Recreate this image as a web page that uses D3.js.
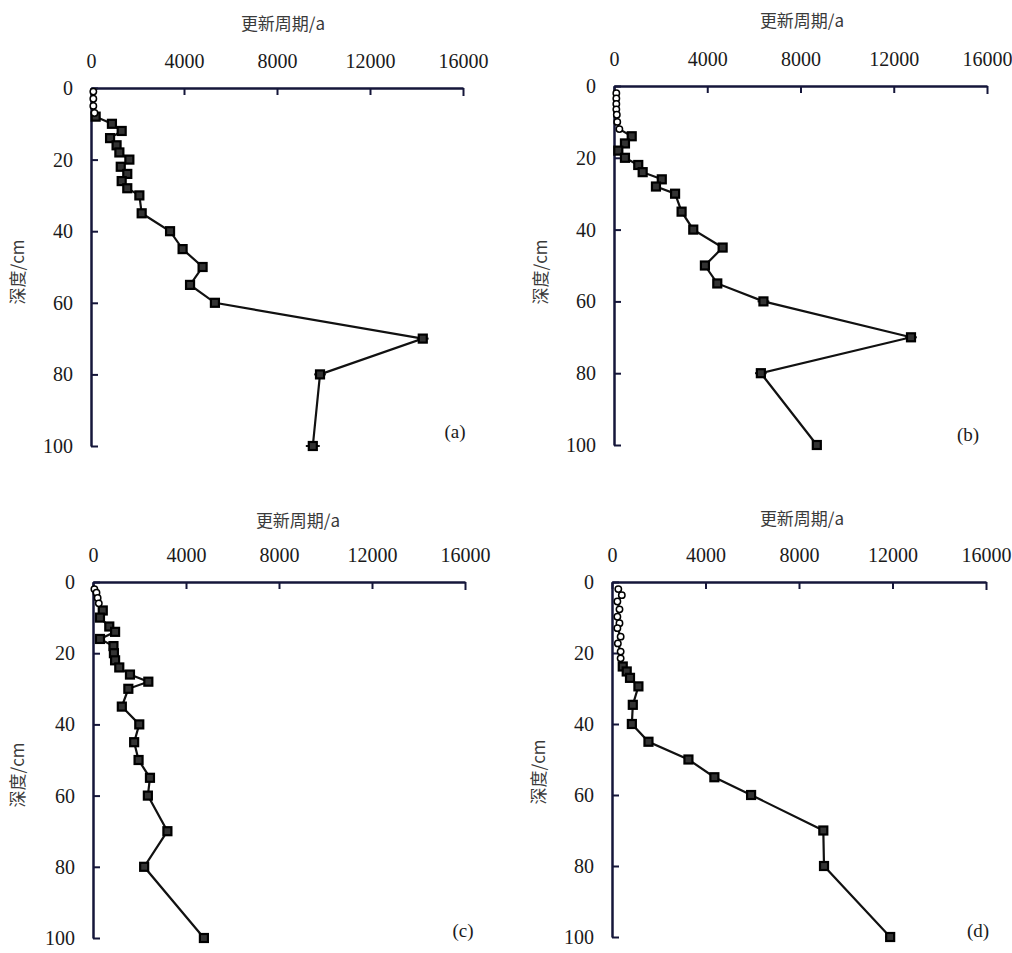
<!DOCTYPE html>
<html>
<head>
<meta charset="utf-8">
<script src="https://cdn.jsdelivr.net/npm/d3@7"></script>
<style>
  body { margin: 0; background: #fff; }
  svg { display: block; }
</style>
</head>
<body>
<script>
// Depth (cm) vs renewal period (a), four profiles
const xTicks = [0, 4000, 8000, 12000, 16000];
const yTicks = [0, 20, 40, 60, 80, 100];

const depthA = [1, 3, 5, 7, 8, 10, 12, 14, 16, 18, 20, 22, 24, 26, 28, 30, 35, 40, 45, 50, 55, 60, 70, 80, 100];
const periodA = [100, 100, 100, 150, 200, 900, 1320, 820, 1100, 1220, 1650, 1280, 1560, 1320, 1560, 2080, 2180, 3400, 3940, 4800, 4260, 5330, 14270, 9850, 9540];
const errA = [0, 0, 0, 0, 0, 0, 150, 0, 0, 0, 0, 0, 0, 0, 0, 0, 0, 0, 0, 150, 0, 200, 250, 250, 300];
const openA = 4;

const depthB = [2, 3.5, 5, 6.5, 8, 10, 12, 14, 16, 18, 20, 22, 24, 26, 28, 30, 35, 40, 45, 50, 55, 60, 70, 80, 100];
const periodB = [100, 100, 100, 100, 120, 140, 230, 760, 470, 185, 470, 1040, 1230, 2050, 1800, 2620, 2900, 3400, 4660, 3900, 4430, 6410, 12740, 6300, 8700];
const errB = [0, 0, 0, 0, 0, 0, 0, 0, 0, 0, 0, 0, 0, 0, 0, 0, 0, 0, 0, 0, 0, 250, 250, 250, 150];
const openB = 7;

const depthC = [2, 3, 4.5, 6, 8, 10, 12.5, 14, 16, 18, 20, 22, 24, 26, 28, 30, 35, 40, 45, 50, 55, 60, 70, 80, 100];
const periodC = [60, 150, 200, 250, 420, 300, 700, 950, 300, 880, 900, 950, 1130, 1590, 2380, 1520, 1240, 1990, 1770, 1960, 2450, 2360, 3200, 2200, 4770];
const errC = [0, 0, 0, 0, 0, 0, 0, 0, 0, 0, 0, 0, 0, 0, 0, 0, 0, 0, 0, 0, 0, 0, 0, 0, 0];
const openC = 4;

const depthD = [2, 3.7, 5.5, 7.7, 9.8, 11.6, 13, 15.4, 17.3, 19.6, 21.5, 23.8, 25.2, 27, 29.4, 34.6, 40, 45, 50, 55, 60, 70, 80, 100];
const periodD = [270, 420, 230, 320, 230, 320, 230, 370, 250, 370, 370, 460, 630, 770, 1130, 890, 850, 1560, 3270, 4380, 5950, 9040, 9070, 11900];
const errD = [0, 0, 0, 0, 0, 0, 0, 0, 0, 0, 0, 0, 0, 0, 0, 0, 0, 0, 0, 0, 0, 0, 200, 200];
const openD = 11;

const panels = [
  { id: "(a)", depth: depthA, period: periodA, err: errA, open: openA,
    x0: 91, x1: 463, y0: 88, y1: 446, titleX: 283, titleY: 30, yTitleX: 24, yTitleY: 272, labX: 455, labY: 438 },
  { id: "(b)", depth: depthB, period: periodB, err: errB, open: openB,
    x0: 614, x1: 987, y0: 86, y1: 445, titleX: 802, titleY: 27, yTitleX: 547, yTitleY: 272, labX: 968, labY: 441 },
  { id: "(c)", depth: depthC, period: periodC, err: errC, open: openC,
    x0: 93, x1: 465, y0: 582, y1: 938, titleX: 298, titleY: 527, yTitleX: 24, yTitleY: 775, labX: 463, labY: 937 },
  { id: "(d)", depth: depthD, period: periodD, err: errD, open: openD,
    x0: 612, x1: 986, y0: 582, y1: 937, titleX: 802, titleY: 525, yTitleX: 545, yTitleY: 772, labX: 978, labY: 937 }
];

const axisColor = "#15163a";
const inkColor = "#111";
const serif = "'Liberation Serif', 'Times New Roman', serif";

const svg = d3.select("body").append("svg")
  .attr("width", 1012)
  .attr("height", 953);

panels.forEach(p => {
  const x = d3.scaleLinear().domain([0, 16000]).range([p.x0, p.x1]);
  const y = d3.scaleLinear().domain([0, 100]).range([p.y0, p.y1]);
  const g = svg.append("g");

  // axes
  const xAxis = g.append("g")
    .attr("transform", `translate(0,${p.y0})`)
    .call(d3.axisTop(x).tickValues(xTicks).tickFormat(d3.format("d"))
      .tickSizeInner(-7).tickSizeOuter(0).tickPadding(20));
  const yAxis = g.append("g")
    .attr("transform", `translate(${p.x0},0)`)
    .call(d3.axisLeft(y).tickValues(yTicks)
      .tickSizeInner(-7).tickSizeOuter(0).tickPadding(18));

  [xAxis, yAxis].forEach(a => {
    a.select(".domain").attr("stroke", axisColor).attr("stroke-width", 2.5);
    a.selectAll(".tick line").attr("stroke", axisColor).attr("stroke-width", 2);
    a.selectAll(".tick text")
      .attr("fill", "#1a1a1a")
      .style("font-family", serif)
      .style("font-size", "20px");
  });
  xAxis.selectAll(".tick").filter(d => d === 16000).select("line").attr("y2", 8);

  // titles
  g.append("text")
    .attr("x", p.titleX).attr("y", p.titleY)
    .attr("text-anchor", "middle")
    .attr("fill", "#3a3a3a")
    .style("font-family", "'Noto Sans CJK SC', sans-serif")
    .style("font-size", "17px")
    .text("更新周期/a");
  g.append("text")
    .attr("transform", `translate(${p.yTitleX},${p.yTitleY}) rotate(-90)`)
    .attr("text-anchor", "middle")
    .attr("fill", "#3a3a3a")
    .style("font-family", "'Noto Sans CJK SC', sans-serif")
    .style("font-size", "17px")
    .text("深度/cm");
  g.append("text")
    .attr("x", p.labX).attr("y", p.labY)
    .attr("text-anchor", "middle")
    .attr("fill", "#1a1a1a")
    .style("font-family", serif)
    .style("font-size", "19px")
    .text(p.id);

  const pts = p.depth.map((d, i) => ({ d, v: p.period[i], e: p.err[i], open: i < p.open }));

  // profile line
  g.append("path")
    .datum(pts)
    .attr("fill", "none")
    .attr("stroke", inkColor)
    .attr("stroke-width", 2.2)
    .attr("d", d3.line().x(d => x(d.v)).y(d => y(d.d)));

  // error whiskers
  g.selectAll(".err")
    .data(pts.filter(d => d.e > 0))
    .join("line")
    .attr("x1", d => x(d.v - d.e)).attr("x2", d => x(d.v + d.e))
    .attr("y1", d => y(d.d)).attr("y2", d => y(d.d))
    .attr("stroke", inkColor).attr("stroke-width", 2);

  // filled squares
  g.selectAll(".sq")
    .data(pts.filter(d => !d.open))
    .join("rect")
    .attr("x", d => x(d.v) - 4).attr("y", d => y(d.d) - 4)
    .attr("width", 8).attr("height", 8)
    .attr("fill", "#333")
    .attr("stroke", "#000")
    .attr("stroke-width", 2.2);

  // open circles
  g.selectAll(".oc")
    .data(pts.filter(d => d.open))
    .join("circle")
    .attr("cx", d => x(d.v)).attr("cy", d => y(d.d))
    .attr("r", 3.2)
    .attr("fill", "#fff")
    .attr("stroke", "#000")
    .attr("stroke-width", 1.5);
});
</script>
</body>
</html>
